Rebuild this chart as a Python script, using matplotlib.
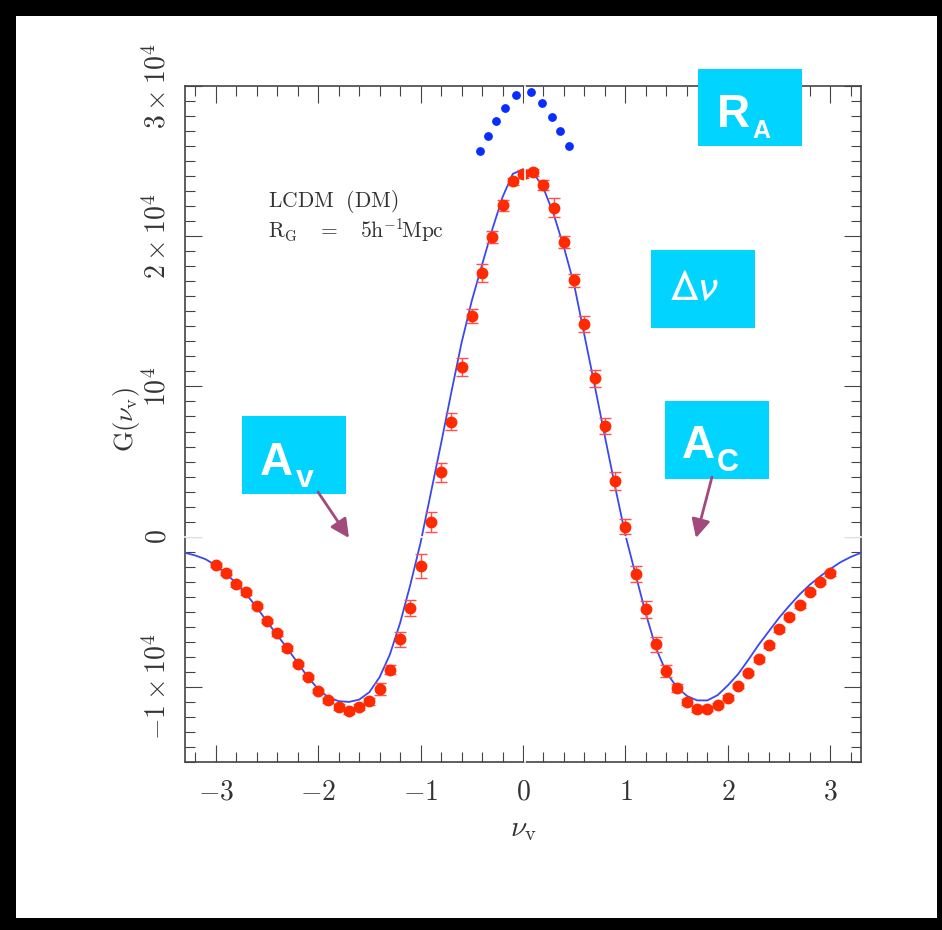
import matplotlib
matplotlib.use("Agg")
import matplotlib.pyplot as plt
from matplotlib.patches import Rectangle, FancyArrowPatch
from matplotlib.ticker import MultipleLocator

plt.rcParams['mathtext.fontset'] = 'cm'
plt.rcParams['font.family'] = 'DejaVu Serif'

# measured genus-like statistic G(nu) (red points with error bars)
nu = [-3.0, -2.9, -2.8, -2.7, -2.6, -2.5, -2.4, -2.3, -2.2, -2.1,
      -2.0, -1.9, -1.8, -1.7, -1.6, -1.5, -1.4, -1.3, -1.2, -1.1,
      -1.0, -0.9, -0.8, -0.7, -0.6, -0.5, -0.4, -0.3, -0.2, -0.1,
      0.0, 0.1, 0.2, 0.3, 0.4, 0.5, 0.6, 0.7, 0.8, 0.9,
      1.0, 1.1, 1.2, 1.3, 1.4, 1.5, 1.6, 1.7, 1.8, 1.9,
      2.0, 2.1, 2.2, 2.3, 2.4, 2.5, 2.6, 2.7, 2.8, 2.9, 3.0]
g_meas = [-1890, -2400, -3170, -3710, -4620, -5600, -6440, -7440, -8490, -9330,
          -10270, -10890, -11370, -11630, -11370, -10970, -10140, -8860, -6840, -4720,
          -1950, 1000, 4290, 7650, 11300, 14680, 17560, 19950, 22050, 23650,
          24150, 24250, 23400, 21900, 19610, 17070, 14150, 10550, 7350, 3700,
          670, -2490, -4830, -7170, -8950, -10080, -10980, -11440, -11440, -11220,
          -10710, -9950, -9070, -8170, -7240, -6170, -5330, -4570, -3690, -3020, -2440]
g_err = [150, 150, 150, 150, 150, 150, 150, 150, 150, 150,
         150, 150, 200, 200, 200, 250, 400, 300, 520, 530,
         780, 670, 620, 560, 590, 470, 600, 400, 390, 250,
         250, 250, 350, 650, 420, 420, 530, 560, 530, 610,
         510, 560, 570, 520, 390, 250, 200, 200, 150, 150,
         150, 150, 150, 150, 150, 150, 150, 150, 150, 150, 150]

# theory curve (blue line)
curve_nu = [-3.3, -3.2, -3.1, -3.0, -2.9, -2.8, -2.7, -2.6, -2.5, -2.4,
            -2.3, -2.2, -2.1, -2.0, -1.9, -1.8, -1.7, -1.6, -1.5, -1.4,
            -1.3, -1.2, -1.1, -1.0, -0.9, -0.8, -0.7, -0.6, -0.5, -0.4,
            -0.3, -0.2, -0.1, 0.0, 0.1, 0.2, 0.3, 0.4, 0.5, 0.6,
            0.7, 0.8, 0.9, 1.0, 1.1, 1.2, 1.3, 1.4, 1.5, 1.6,
            1.7, 1.8, 1.9, 2.0, 2.1, 2.2, 2.3, 2.4, 2.5, 2.6,
            2.7, 2.8, 2.9, 3.0, 3.1, 3.2, 3.3]
curve_g = [-1070, -1250, -1500, -1900, -2450, -3100, -3850, -4700, -5650, -6550,
           -7450, -8400, -9350, -10150, -10700, -10950, -11000, -10850, -10350, -9350,
           -7850, -5750, -3200, -400, 2900, 6200, 9600, 12900, 15700, 18100,
           20450, 22600, 24150, 24450, 24250, 23200, 21450, 19250, 16750, 13400,
           10050, 6650, 3300, 100, -2550, -5150, -7450, -9050, -10000, -10600,
           -10900, -10900, -10550, -9900, -9150, -8200, -7200, -6300, -5400, -4600,
           -3850, -3200, -2650, -2150, -1700, -1350, -1070]

# blue dotted arc above the peak
arc_nu = [-0.42, -0.34, -0.26, -0.18, -0.07, 0.08, 0.19, 0.28, 0.36, 0.45]
arc_g = [25650, 26650, 27650, 28560, 29430, 29630, 28850, 27910, 26980, 26000]

ytick_vals = [-10000, 0, 10000, 20000, 30000]
ytick_labels = [r'$-1\times10^4$', r'$0$', r'$10^4$', r'$2\times10^4$', r'$3\times10^4$']
xtick_vals = [-3, -2, -1, 0, 1, 2, 3]
xtick_labels = [r'$-3$', r'$-2$', r'$-1$', r'$0$', r'$1$', r'$2$', r'$3$']

W, H = 942, 930


def fx(px):
    return px / W


def fy(py):
    return 1 - py / H


fig = plt.figure(figsize=(W / 100, H / 100), dpi=100)
fig.patch.set_facecolor('black')
fig.add_artist(Rectangle((fx(16), fy(918)), fx(937) - fx(16), fy(16) - fy(918),
                         transform=fig.transFigure, facecolor='white',
                         edgecolor='none', zorder=-5))

ax = fig.add_axes([fx(185), fy(762), fx(861) - fx(185), fy(86) - fy(762)])
ax.set_facecolor('white')

ax.plot(curve_nu, curve_g, color='#3b48f0', lw=1.3, zorder=3)
ax.errorbar(nu, g_meas, yerr=g_err, fmt='o', color='#ff2a00', ms=7.5,
            ecolor='#ff5050', elinewidth=1.0, capsize=4, capthick=1.0, zorder=4)
ax.plot(arc_nu, arc_g, 'o', color='#0a2dff', ms=5.3, zorder=5, clip_on=False)

# thin white seams present in the original image
ax.axvline(0.02, color='white', lw=1.2, zorder=10, clip_on=False)
ax.axhline(0, color='white', lw=1.2, zorder=10, clip_on=False)

ax.set_xlim(-3.3, 3.3)
ax.set_ylim(-15000, 30000)
ax.set_xticks(xtick_vals, xtick_labels)
ax.set_yticks(ytick_vals, ytick_labels)
ax.xaxis.set_minor_locator(MultipleLocator(0.2))
ax.yaxis.set_minor_locator(MultipleLocator(1000))
ax.tick_params(which='both', direction='in', top=True, right=True,
               color='#444444', width=0.8)
ax.tick_params(which='major', length=12)
ax.tick_params(which='minor', length=7)
ax.tick_params(axis='x', labelsize=20, pad=12, labelcolor='#333333')
ax.tick_params(axis='y', labelsize=20, pad=10, labelrotation=90, labelcolor='#333333')
for lab in ax.get_yticklabels():
    lab.set_va('center')
for sp in ax.spines.values():
    sp.set_color('#444444')
    sp.set_linewidth(1.2)

ax.set_xlabel(r'$\nu_{\rm v}$', fontsize=21, color='#333333')
ax.xaxis.set_label_coords(0.5, -0.078)
ax.set_ylabel(r'$\mathrm{G}(\nu_{\rm v})$', fontsize=19, color='#333333')
ax.yaxis.set_label_coords(-0.063, 0.507)

ax.text(fx(268), fy(207), r'$\mathrm{LCDM\ \ (DM)}$', transform=fig.transFigure,
        fontsize=15.5, color='#333333', va='baseline')
ax.text(fx(268), fy(237), r'$\mathrm{R_G\quad=\quad5h^{-1}\!Mpc}$', transform=fig.transFigure,
        fontsize=15.5, color='#333333', va='baseline')

# cyan label boxes with arrows
cyan = '#00d4ff'
boxes = [(698, 69, 802, 146), (651, 250, 755, 328), (242, 416, 346, 494), (665, 401, 769, 479)]
for x0, y0, x1, y1 in boxes:
    fig.add_artist(Rectangle((fx(x0), fy(y1)), fx(x1) - fx(x0), fy(y0) - fy(y1),
                             transform=fig.transFigure, facecolor=cyan,
                             edgecolor='none', zorder=20))

bold = dict(family='Liberation Sans', weight='bold', color='white', zorder=21,
            transform=fig.transFigure, va='baseline', ha='left')
fig.text(fx(717), fy(127), 'R', fontsize=33, **bold)
fig.text(fx(752), fy(138), 'A', fontsize=18, **bold)
fig.text(fx(260), fy(475), 'A', fontsize=33, **bold)
fig.text(fx(296), fy(487), 'v', fontsize=23, **bold)
fig.text(fx(682), fy(458), 'A', fontsize=33, **bold)
fig.text(fx(717), fy(471), 'C', fontsize=22, **bold)
fig.text(fx(669), fy(300), r'$\Delta\nu$', fontsize=32, color='white', zorder=21,
         transform=fig.transFigure, va='baseline', ha='left', math_fontfamily='stixsans')

arrow_col = '#a24a7c'
for (xa, ya), (xb, yb) in [((318, 492), (349, 538)), ((712, 477), (696, 538))]:
    fig.add_artist(FancyArrowPatch((fx(xa), fy(ya)), (fx(xb), fy(yb)),
                                   transform=fig.transFigure, arrowstyle='-|>',
                                   mutation_scale=28, lw=2, color=arrow_col,
                                   shrinkA=0, shrinkB=0, zorder=22))

fig.savefig('out.png', dpi=100, facecolor=fig.get_facecolor())
